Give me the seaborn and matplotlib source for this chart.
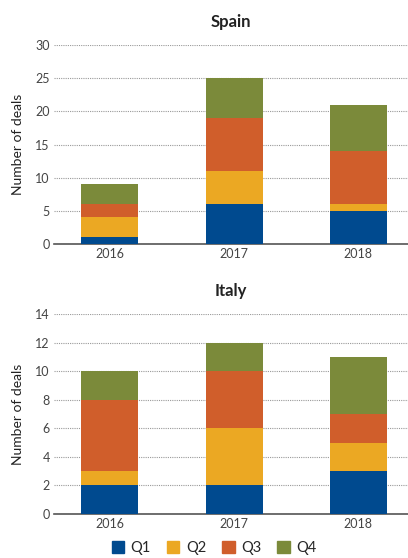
import numpy as np
import matplotlib
matplotlib.use("Agg")
import matplotlib.pyplot as plt
import matplotlib.patches as mpatches
import seaborn as sns

# data
years = ["2016", "2017", "2018"]
quarters = ["Q1", "Q2", "Q3", "Q4"]
colors = ["#004a8f", "#eba823", "#d05e2b", "#7b8a3a"]

spain_q1 = [1, 6, 5]
spain_q2 = [3, 5, 1]
spain_q3 = [2, 8, 8]
spain_q4 = [3, 6, 7]

italy_q1 = [2, 2, 3]
italy_q2 = [1, 4, 2]
italy_q3 = [5, 4, 2]
italy_q4 = [2, 2, 4]

sns.set_style("white")
plt.rcParams["font.family"] = ["Lato", "DejaVu Sans"]

fig = plt.figure(figsize=(4.08, 5.58), dpi=100)
ax1 = fig.add_axes([54 / 408, 1 - 244 / 558, 354 / 408, 199 / 558])
ax2 = fig.add_axes([54 / 408, 1 - 514 / 558, 354 / 408, 200 / 558])


def stacked(ax, series, ymax, step, title):
    cum = np.cumsum(np.array(series), axis=0)
    # draw from the top segment down so lower ones cover the rest
    for i in range(len(series) - 1, -1, -1):
        sns.barplot(x=years, y=cum[i], color=colors[i], width=0.46,
                    saturation=1, linewidth=0, ax=ax, zorder=3)
    ax.set_ylim(0, ymax)
    ax.set_xlim(-0.45, 2.4)
    ax.set_yticks(np.arange(0, ymax + 1, step))
    ax.yaxis.grid(True, linestyle=(0, (1, 1)), color="#999999", linewidth=0.8, zorder=0)
    ax.set_axisbelow(True)
    for s in ["top", "right", "left"]:
        ax.spines[s].set_visible(False)
    ax.spines["bottom"].set_color("#555555")
    ax.spines["bottom"].set_linewidth(1.2)
    ax.tick_params(axis="both", length=0, labelsize=9, colors="#444444", pad=3)
    ax.set_xlabel("")
    ax.set_ylabel("Number of deals", fontsize=10, color="#222222", labelpad=8)
    ax.set_title(title, fontsize=12, fontweight="bold", color="#222222", pad=13)


stacked(ax1, [spain_q1, spain_q2, spain_q3, spain_q4], 30, 5, "Spain")
stacked(ax2, [italy_q1, italy_q2, italy_q3, italy_q4], 14, 2, "Italy")

handles = [mpatches.Patch(color=c, label=q) for c, q in zip(colors, quarters)]
fig.legend(handles=handles, loc="center", bbox_to_anchor=(0.525, 10 / 558),
           ncol=4, frameon=False, fontsize=10.5, handlelength=0.85, handleheight=0.85,
           handletextpad=0.45, columnspacing=1.1)

fig.savefig("out.png", dpi=100)
